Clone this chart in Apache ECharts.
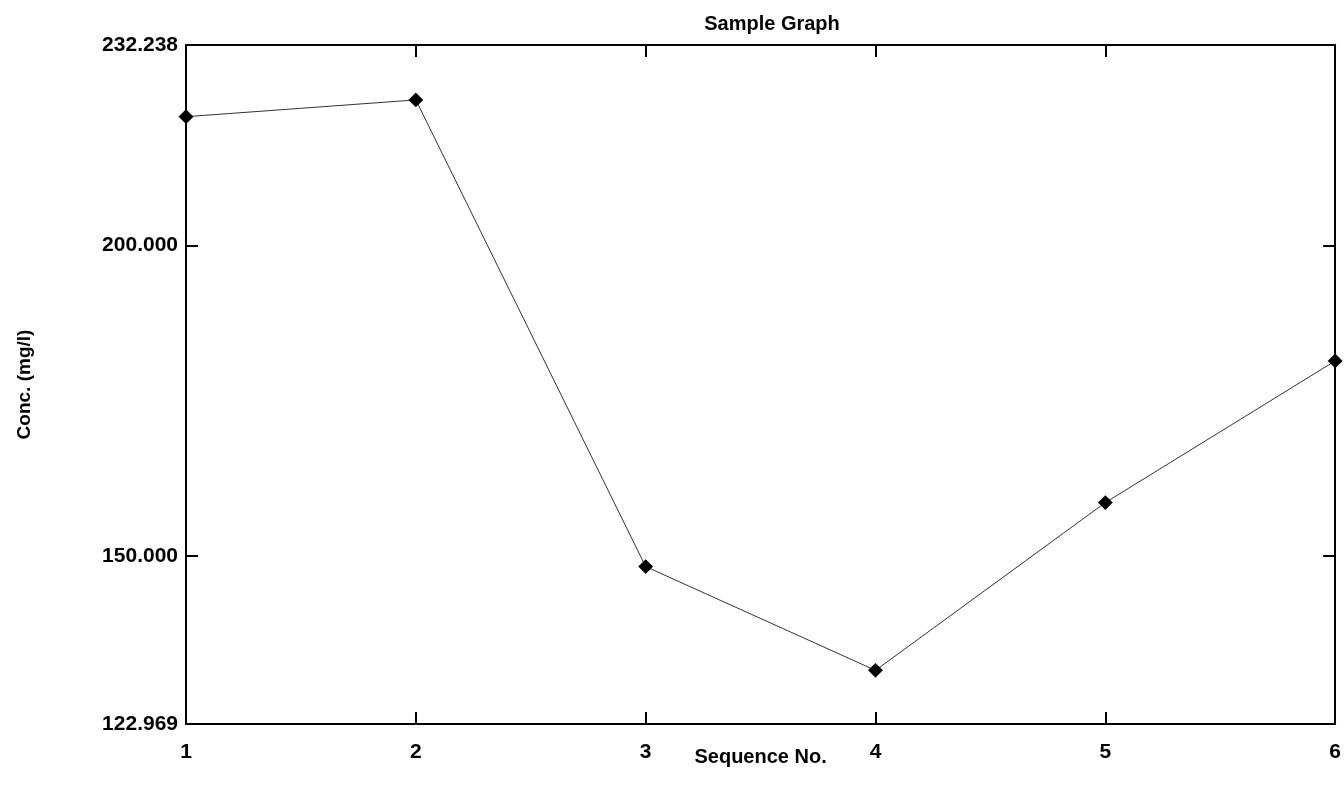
<!DOCTYPE html>
<html>
<head>
<meta charset="utf-8">
<title>Sample Graph</title>
<script src="https://cdn.jsdelivr.net/npm/echarts@6/dist/echarts.min.js"></script>
<style>
  html, body { margin: 0; padding: 0; background: #ffffff; }
  #chart { width: 1344px; height: 788px; }
</style>
</head>
<body>
<div id="chart"></div>
<script>
// Sequence numbers along the x axis
const sequenceNo = ['1', '2', '3', '4', '5', '6'];
// Measured concentration (mg/l) for each sequence
const concentration = [220.7, 223.4, 148.3, 131.6, 158.6, 181.4];
// Y axis range and labelled values
const yMin = 122.969;
const yMax = 232.238;
const yTickValues = [122.969, 150, 200, 232.238];
const yInnerTicks = [150, 200];

const fontFamily = '"Liberation Sans", Arial, Helvetica, sans-serif';
const axisLineStyle = { color: '#000', width: 2 };
const tickStyle = { color: '#000', width: 2 };

const chart = echarts.init(document.getElementById('chart'), null, { renderer: 'canvas' });

chart.setOption({
  backgroundColor: '#ffffff',
  animation: false,
  title: {
    text: 'Sample Graph',
    left: 767,
    textAlign: 'center',
    top: 9,
    textStyle: { fontFamily, fontSize: 20, fontWeight: 'bold', color: '#000' }
  },
  grid: { left: 186, right: 5, top: 45, bottom: 64, containLabel: false },
  xAxis: [
    {
      type: 'category',
      position: 'bottom',
      data: sequenceNo,
      boundaryGap: false,
      name: 'Sequence No.',
      nameLocation: 'middle',
      nameGap: 23,
      nameMoveOverlap: false,
      nameTextStyle: { fontFamily, fontSize: 20, fontWeight: 'bold', color: '#000' },
      axisLine: { show: true, onZero: false, lineStyle: axisLineStyle },
      axisTick: { show: true, inside: true, length: 12, interval: 0, lineStyle: tickStyle },
      axisLabel: { fontFamily, fontSize: 21, fontWeight: 'bold', color: '#000', margin: 18, interval: 0 },
      splitLine: { show: false }
    },
    {
      type: 'category',
      position: 'top',
      data: sequenceNo,
      boundaryGap: false,
      axisLine: { show: true, onZero: false, lineStyle: axisLineStyle },
      axisTick: { show: true, inside: true, length: 12, interval: 0, lineStyle: tickStyle },
      axisLabel: { show: false },
      splitLine: { show: false }
    }
  ],
  yAxis: [
    {
      type: 'value',
      position: 'left',
      min: yMin,
      max: yMax,
      name: 'Conc. (mg/l)',
      nameLocation: 'middle',
      nameRotate: 90,
      nameGap: 152,
      nameMoveOverlap: false,
      nameTextStyle: { fontFamily, fontSize: 19, fontWeight: 'bold', color: '#000' },
      axisLine: { show: true, onZero: false, lineStyle: axisLineStyle },
      axisTick: { show: true, inside: true, length: 12, customValues: yInnerTicks, lineStyle: tickStyle },
      axisLabel: {
        fontFamily, fontSize: 21, fontWeight: 'bold', color: '#000', margin: 8,
        customValues: yTickValues,
        formatter: v => Number(v).toFixed(3)
      },
      splitLine: { show: false }
    },
    {
      type: 'value',
      position: 'right',
      min: yMin,
      max: yMax,
      axisLine: { show: true, onZero: false, lineStyle: axisLineStyle },
      axisTick: { show: true, inside: true, length: 12, customValues: yInnerTicks, lineStyle: tickStyle },
      axisLabel: { show: false },
      splitLine: { show: false }
    }
  ],
  series: [
    {
      type: 'line',
      xAxisIndex: 0,
      yAxisIndex: 0,
      data: concentration,
      symbol: 'rect',
      symbolSize: 10.5,
      symbolRotate: 45,
      showAllSymbol: true,
      clip: false,
      lineStyle: { color: '#333', width: 1 },
      itemStyle: { color: '#000', borderWidth: 0 }
    }
  ]
});
</script>
</body>
</html>
